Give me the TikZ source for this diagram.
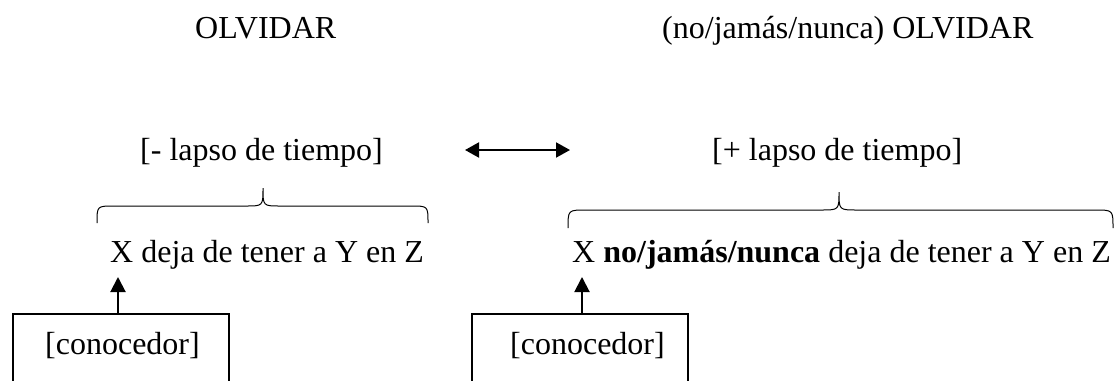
\documentclass[tikz,border=0pt]{standalone}
\usepackage{fontspec}
\setmainfont{Liberation Serif}
\usetikzlibrary{arrows.meta}
\begin{document}
\begin{tikzpicture}[x=1pt,y=-1pt,
  txt/.style={inner sep=0pt,anchor=base west,font=\fontsize{32}{38}\selectfont},
  boxnode/.style={draw,line width=1.5pt,minimum width=216pt,minimum height=140pt,anchor=north west,inner sep=0pt,font=\fontsize{32}{38}\selectfont,text depth=0pt},
  uparrow/.style={line width=2pt,-{Triangle[length=15pt,width=15pt]}},
  brace/.style={line width=1pt},
  dblarrow/.style={line width=2pt,{Triangle[length=14pt,width=15pt]}-{Triangle[length=14pt,width=15pt]}}]
\useasboundingbox (0,0) rectangle (1115,380);
\clip (0,0) rectangle (1115,380);
% titles
\node[txt] (t1) at (195,38) {OLVIDAR};
\node[txt] (t2) at (662,38) {(no/jamás/nunca) OLVIDAR};
% features
\node[txt] (f1) at (140,160) {[- lapso de tiempo]};
\node[txt] (f2) at (712,160) {[+ lapso de tiempo]};
\coordinate (aL) at (465,150);
\coordinate (aR) at (570,150);
\draw[dblarrow] (aL) -- (aR);
% braces
\draw[brace] (97,223) .. controls (97,206) .. (114,206) -- (246,206) .. controls (263,206) .. (263,188)
  .. controls (263,206) .. (280,206) -- (411,206) .. controls (428,206) .. (428,223);
\draw[brace] (568,228) .. controls (568,210) .. (586,210) -- (821,210) .. controls (839,210) .. (839,192)
  .. controls (839,210) .. (857,210) -- (1095,210) .. controls (1113,210) .. (1113,228);
% sentences
\node[txt] (s1) at (110,262) {X deja de tener a Y en Z};
\node[txt] (s2) at (572,262) {X \textbf{no/jamás/nunca} deja de tener a Y en Z};
% boxes
\node[boxnode] (b1) at (12,313) {};
\node[txt] (c1) at (45,354) {[conocedor]};
\node[boxnode] (b2) at (471,313) {};
\node[txt] (c2) at (510,354) {[conocedor]};
\coordinate (p1) at (118,277);
\coordinate (p2) at (582,277);
\draw[uparrow] (b1.north -| p1) -- (p1);
\draw[uparrow] (b2.north -| p2) -- (p2);
\end{tikzpicture}
\end{document}
